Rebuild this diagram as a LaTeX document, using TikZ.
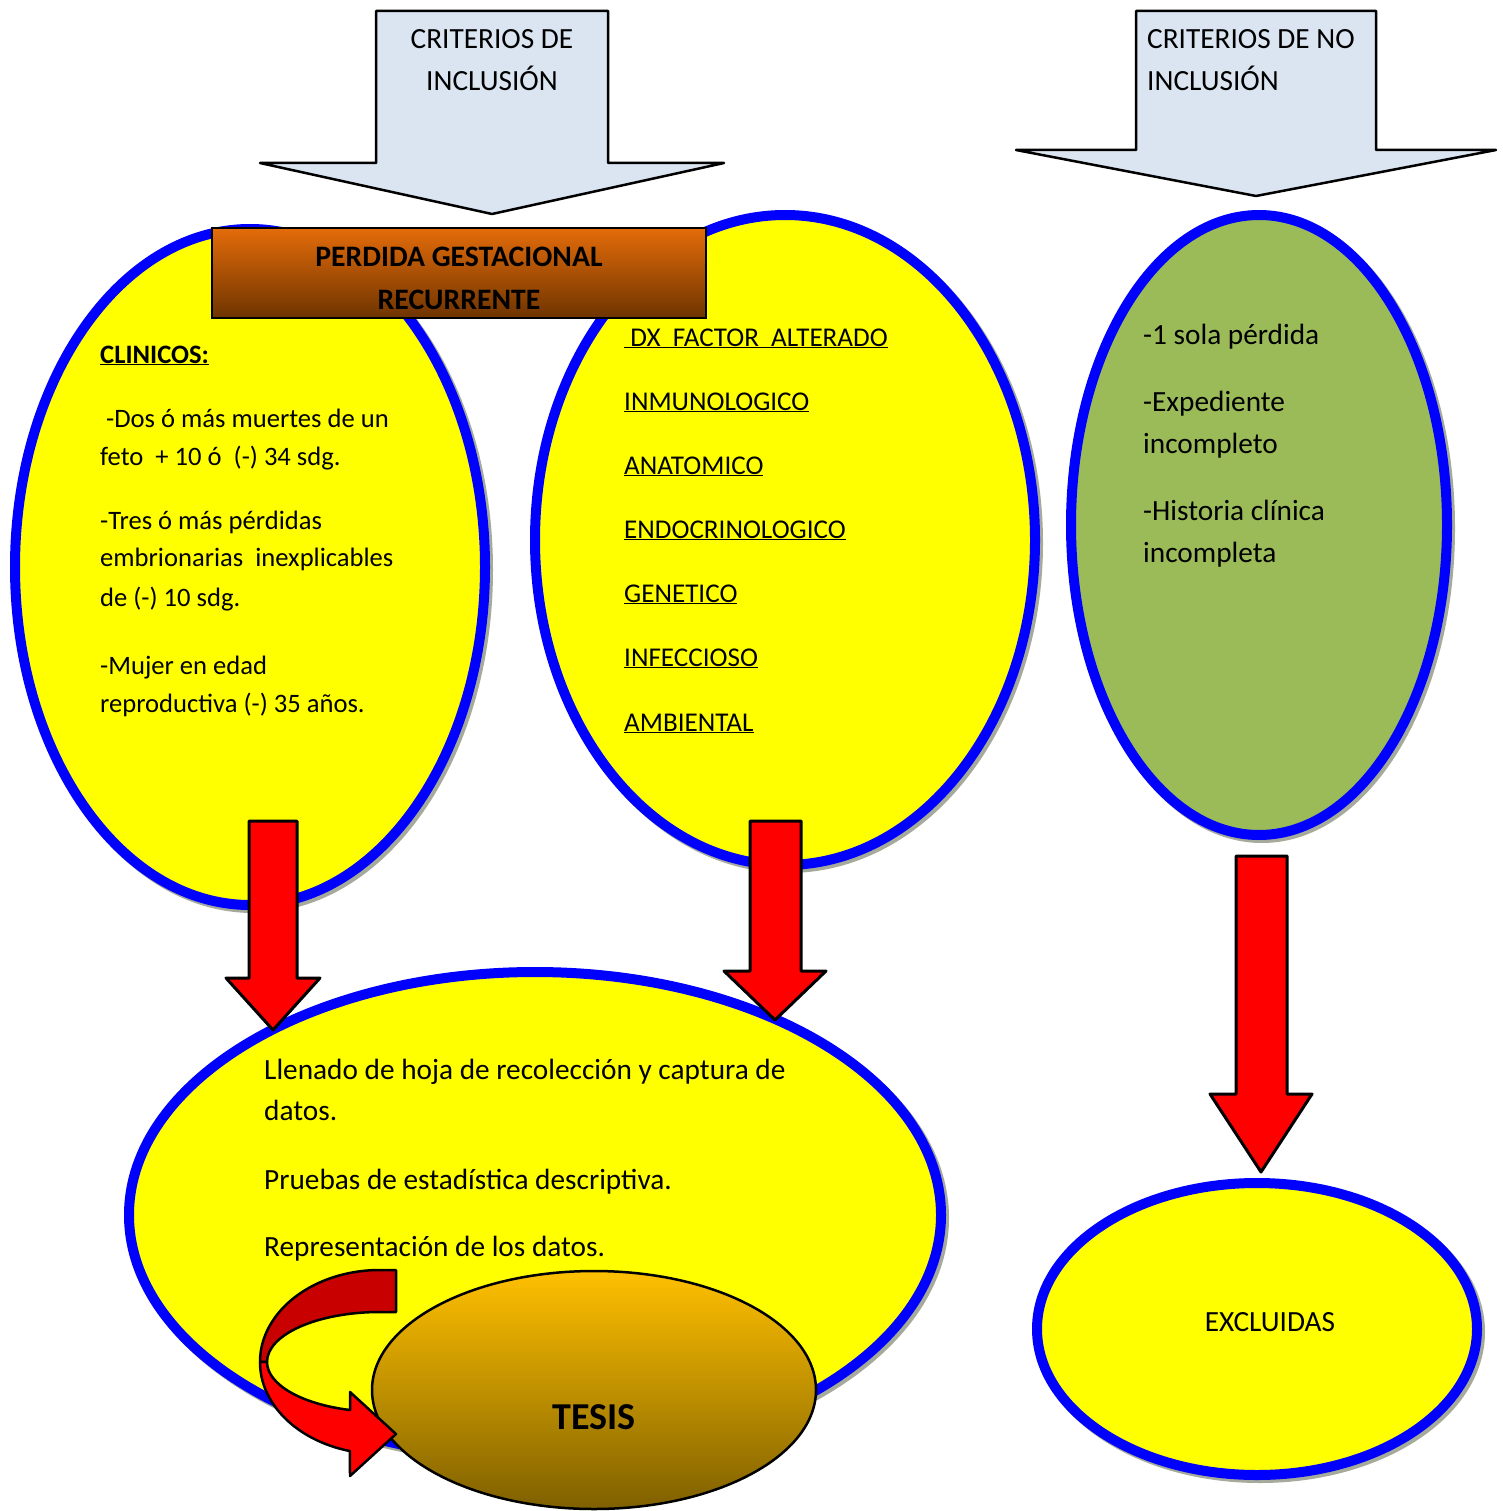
\documentclass[tikz,border=0pt]{standalone}
\usepackage{fontspec}
\setmainfont{Carlito}
\usetikzlibrary{shapes.geometric}
\definecolor{ellblue}{RGB}{0,0,255}
\definecolor{ellyellow}{RGB}{255,255,0}
\definecolor{ellgreen}{RGB}{155,187,89}
\definecolor{arrowblue}{RGB}{219,229,241}
\definecolor{shadowgray}{RGB}{165,170,155}
\definecolor{orangetop}{RGB}{228,108,10}
\definecolor{orangebot}{RGB}{110,52,0}
\definecolor{tesistop}{RGB}{255,192,0}
\definecolor{tesisbot}{RGB}{127,96,0}
\definecolor{darkred}{RGB}{200,0,0}
\definecolor{brightred}{RGB}{255,0,0}
\begin{document}
\begin{tikzpicture}[x=1pt,y=1pt,
  bell/.style={ellipse, draw=ellblue, line width=10pt, fill=ellyellow, inner sep=0pt},
  gell/.style={bell, fill=ellgreen},
  shell/.style={ellipse, draw=shadowgray, line width=10pt, fill=shadowgray, inner sep=0pt},
  bluearrow/.style={draw=black, line width=2.5pt, fill=arrowblue, line join=round},
  redarrow/.style={draw=black, line width=3pt, fill=brightred, line join=round},
  txt/.style={anchor=base west, inner sep=0pt, font=\fontsize{26.6}{32}\selectfont},
  mtxt/.style={txt, font=\fontsize{27.1}{32}\selectfont},
  ltxt/.style={txt, font=\fontsize{29.3}{34}\selectfont},
  lctxt/.style={ltxt, anchor=base},
  btxt/.style={lctxt, font=\fontsize{29.7}{34}\selectfont\bfseries}]
\useasboundingbox (0,0) rectangle (1502,-1511);
\fill[white] (0,0) rectangle (1502,-1511);

% upper ellipses
\node[shell, minimum width=470pt, minimum height=676pt] (shL) at (253,-570) {};
\node[bell, minimum width=470pt, minimum height=676pt] (eL) at (250,-567) {};
\node[shell, minimum width=500pt, minimum height=650pt] (shM) at (788,-543) {};
\node[bell, minimum width=500pt, minimum height=650pt] (eM) at (785,-540) {};
\node[shell, minimum width=376pt, minimum height=620pt] (shR) at (1262,-528) {};
\node[gell, minimum width=376pt, minimum height=620pt] (eR) at (1259,-525) {};

% title box
\node[rectangle, draw=black, line width=2.5pt, top color=orangetop, bottom color=orangebot,
      minimum width=494pt, minimum height=90pt, inner sep=0pt] (title) at (459,-273) {};

% top block arrows
\draw[bluearrow] (376,-11) -- (608,-11) -- (608,-163) -- (724,-163) -- (492,-214)
   -- (260,-163) -- (376,-163) -- cycle;
\draw[bluearrow] (1136,-11) -- (1376,-11) -- (1376,-150) -- (1496,-150) -- (1256,-196)
   -- (1016,-150) -- (1136,-150) -- cycle;

% lower ellipses
\node[shell, minimum width=812pt, minimum height=486pt] (shB) at (538,-1218) {};
\node[bell, minimum width=812pt, minimum height=486pt] (eB) at (535,-1215) {};
\node[shell, minimum width=440pt, minimum height=292pt] (shX) at (1260,-1332) {};
\node[bell, minimum width=440pt, minimum height=292pt] (eX) at (1257,-1329) {};

% red block arrows
\draw[redarrow] (249,-821) -- (297,-821) -- (297,-978) -- (320,-978) -- (273,-1030)
   -- (226,-978) -- (249,-978) -- cycle;
\draw[redarrow] (750,-821) -- (801,-821) -- (801,-971) -- (826,-971) -- (775,-1020)
   -- (724,-971) -- (750,-971) -- cycle;
\draw[redarrow] (1236,-856) -- (1287,-856) -- (1287,-1094) -- (1312,-1094) -- (1261,-1172)
   -- (1210,-1094) -- (1236,-1094) -- cycle;

% TESIS ellipse
\node[ellipse, draw=black, line width=2.5pt, top color=tesistop, bottom color=tesisbot,
      minimum width=444pt, minimum height=238pt, inner sep=0pt] (tesis) at (594,-1390) {};

% curved arrow
\draw[draw=black, line width=2.5pt, fill=darkred, line join=round]
  (396,-1270) -- (380,-1270) arc[start angle=90, end angle=180, x radius=120, y radius=92]
  -- (267,-1362) arc[start angle=180, end angle=90, x radius=113, y radius=50]
  -- (396,-1312) -- cycle;
\draw[draw=black, line width=2.5pt, fill=brightred, line join=round]
  (260,-1362) arc[start angle=180, end angle=255.5, x radius=120, y radius=92]
  -- (350,-1476) -- (396,-1434) -- (350,-1392) -- (350,-1410)
  arc[start angle=254.6, end angle=180, x radius=113, y radius=50] -- cycle;

% texts: top arrows
\node[lctxt] (t1a) at (492,-48.5) {CRITERIOS DE};
\node[lctxt] (t1b) at (492,-90.5) {INCLUSIÓN};
\node[ltxt] (t2a) at (1147,-48.5) {CRITERIOS DE NO};
\node[ltxt] (t2b) at (1147,-90.5) {INCLUSIÓN};
% title
\node[btxt] (ta) at (459,-267) {PERDIDA GESTACIONAL};
\node[btxt] (tb) at (459,-309) {RECURRENTE};
% left ellipse
\node[txt] (l1) at (100,-363) {\textbf{\underline{CLINICOS:}}};
\node[txt] (l2) at (100,-427) {\ -Dos ó más muertes de un};
\node[txt] (l3) at (100,-465) {feto\ \ + 10 ó\ \ (-) 34 sdg.};
\node[txt] (l4) at (100,-529) {-Tres ó más pérdidas};
\node[txt] (l5) at (100,-566) {embrionarias\ \ inexplicables};
\node[txt] (l6) at (100,-606) {de (-) 10 sdg.};
\node[txt] (l7) at (100,-674) {-Mujer en edad};
\node[txt] (l8) at (100,-712) {reproductiva (-) 35 años.};
% middle ellipse
\node[mtxt] (m1) at (624,-346) {\underline{\ DX\ \ FACTOR\ \ ALTERADO}};
\node[mtxt] (m2) at (624,-410) {\underline{INMUNOLOGICO}};
\node[mtxt] (m3) at (624,-474) {\underline{ANATOMICO}};
\node[mtxt] (m4) at (624,-538) {\underline{ENDOCRINOLOGICO}};
\node[mtxt] (m5) at (624,-602) {\underline{GENETICO}};
\node[mtxt] (m6) at (624,-666) {\underline{INFECCIOSO}};
\node[mtxt] (m7) at (624,-731) {\underline{AMBIENTAL}};
% green ellipse
\node[ltxt] (r1) at (1143,-344) {-1 sola pérdida};
\node[ltxt] (r2) at (1143,-411) {-Expediente};
\node[ltxt] (r3) at (1143,-453) {incompleto};
\node[ltxt] (r4) at (1143,-520) {-Historia clínica};
\node[ltxt] (r5) at (1143,-562) {incompleta};
% bottom ellipse
\node[ltxt] (b1) at (264,-1079) {Llenado de hoja de recolección y captura de};
\node[ltxt] (b2) at (264,-1120) {datos.};
\node[ltxt] (b3) at (264,-1189) {Pruebas de estadística descriptiva.};
\node[ltxt] (b4) at (264,-1256) {Representación de los datos.};
% excluded
\node[lctxt] (x1) at (1270,-1331) {EXCLUIDAS};
% tesis label
\node[anchor=base, inner sep=0pt, font=\fontsize{38}{42}\selectfont\bfseries] (tl) at (594,-1429) {TESIS};
\end{tikzpicture}
\end{document}
